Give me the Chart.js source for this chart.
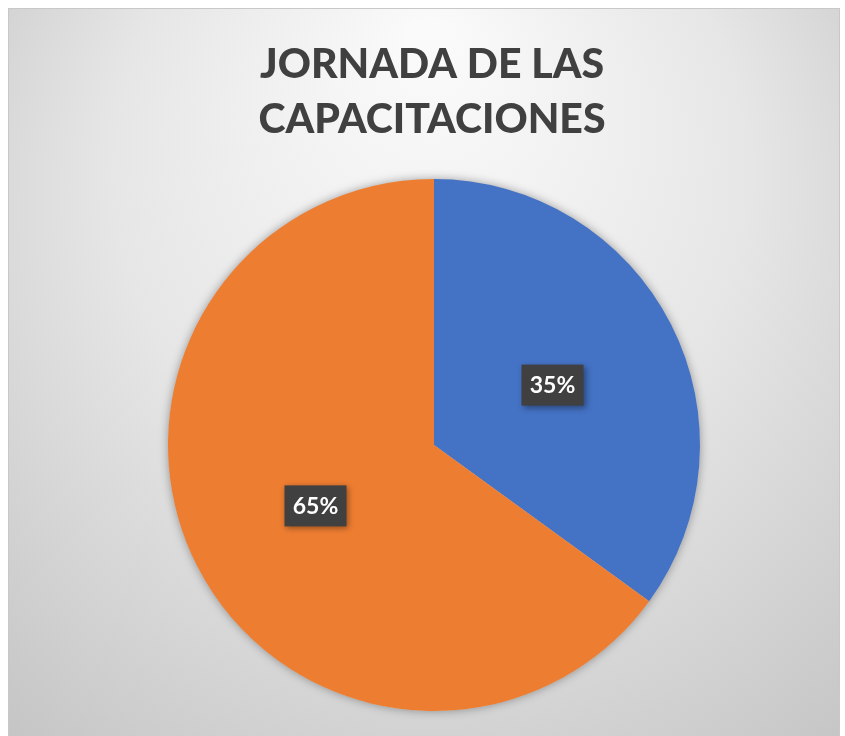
<!DOCTYPE html>
<html lang="es">
<head>
    <meta charset="UTF-8">
    <title>JORNADA DE LAS CAPACITACIONES</title>
    <script src="https://cdn.jsdelivr.net/npm/chart.js"></script>
    <style>
        body {
            margin: 0;
            background: #fff;
        }

        #wrap {
            width: 845px;
            height: 736px;
        }
    </style>
</head>
<body>
    <div id="wrap"><canvas id="pieChart"></canvas></div>

    <script>
        const titleLines = ['JORNADA DE LAS', 'CAPACITACIONES'];
        const categories = ['Asistieron', 'No asistieron'];
        const values = [35, 65];
        const colors = ['#4472C4', '#ED7D31'];

        // fondo con degradado y titulo
        const framePlugin = {
            id: 'frame',
            beforeDraw(chart) {
                const ctx = chart.ctx;
                ctx.save();
                ctx.fillStyle = '#ffffff';
                ctx.fillRect(0, 0, chart.width, chart.height);
                const g = ctx.createRadialGradient(430, 40, 20, 430, 300, 620);
                g.addColorStop(0, '#fafafa');
                g.addColorStop(0.5, '#e6e6e6');
                g.addColorStop(1, '#c4c4c4');
                ctx.fillStyle = g;
                ctx.fillRect(8, 8, 832, 728);
                ctx.strokeStyle = '#c8c8c8';
                ctx.lineWidth = 1;
                ctx.strokeRect(8.5, 8.5, 831, 730);

                ctx.fillStyle = '#404040';
                ctx.font = '900 41px Lato';
                ctx.textAlign = 'center';
                ctx.textBaseline = 'alphabetic';
                ctx.fillText(titleLines[0], 432, 78);
                ctx.fillText(titleLines[1], 432, 133);
                ctx.restore();
            },
            beforeDatasetsDraw(chart) {
                const ctx = chart.ctx;
                ctx.save();
                ctx.shadowColor = 'rgba(0,0,0,0.35)';
                ctx.shadowBlur = 10;
                const arc = chart.getDatasetMeta(0).data[0];
                ctx.fillStyle = '#cccccc';
                ctx.beginPath();
                ctx.arc(arc.x, arc.y, arc.outerRadius, 0, Math.PI * 2);
                ctx.fill();
                ctx.restore();
            },
            afterDatasetsDraw(chart) {
                const ctx = chart.ctx;
                const meta = chart.getDatasetMeta(0);
                const total = values.reduce((a, b) => a + b, 0);
                ctx.save();
                ctx.font = 'bold 23px Lato';
                ctx.textAlign = 'center';
                ctx.textBaseline = 'middle';
                meta.data.forEach((el, i) => {
                    const p = el.tooltipPosition();
                    const txt = Math.round(values[i] / total * 100) + '%';
                    ctx.shadowColor = 'rgba(0,0,0,0.4)';
                    ctx.shadowBlur = 6;
                    ctx.shadowOffsetX = 2;
                    ctx.shadowOffsetY = 2;
                    ctx.fillStyle = '#404040';
                    ctx.fillRect(p.x - 31, p.y - 20, 62, 41);
                    ctx.shadowColor = 'transparent';
                    ctx.fillStyle = '#ffffff';
                    ctx.fillText(txt, p.x, p.y + 1);
                });
                ctx.restore();
            }
        };

        const ctx = document.getElementById('pieChart').getContext('2d');
        new Chart(ctx, {
            type: 'pie',
            data: {
                labels: categories,
                datasets: [{
                    data: values,
                    backgroundColor: colors,
                    borderWidth: 0,
                    hoverOffset: 0
                }]
            },
            options: {
                responsive: true,
                maintainAspectRatio: false,
                animation: false,
                layout: {
                    padding: { top: 179, bottom: 25, left: 23, right: 0 }
                },
                plugins: {
                    legend: { display: false },
                    title: { display: false },
                    tooltip: { enabled: false }
                }
            },
            plugins: [framePlugin]
        });
    </script>
</body>
</html>
